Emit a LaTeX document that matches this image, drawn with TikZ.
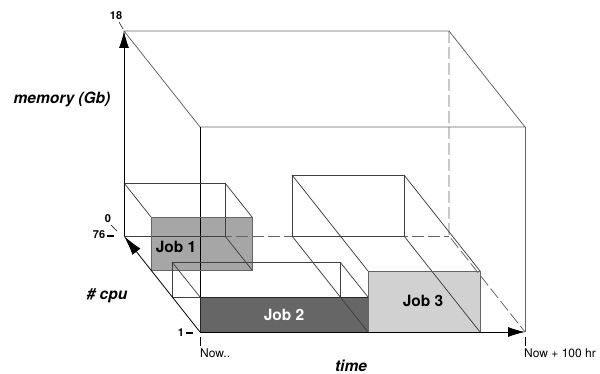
\documentclass[tikz,border=0pt]{standalone}
\usepackage{fontspec}
\setmainfont{TeX Gyre Heros}
\usepackage{tikz}
\usetikzlibrary{arrows.meta}

\tikzset{
  frame/.style={draw=black!60, line width=0.8pt},
  hidden/.style={frame, dash pattern=on 12pt off 4pt},
  axis/.style={draw=black, line width=0.8pt, -{Latex[length=17pt,width=10pt]}},
  jobline/.style={draw=black!75, line width=0.75pt},
  jobface/.style={draw=black!60, line width=0.9pt},
  lab/.style={inner sep=0pt, font=\fontsize{15.5}{18}\selectfont\bfseries\itshape},
  num/.style={inner sep=0pt, font=\fontsize{11}{13}\selectfont\bfseries},
  joblab/.style={font=\fontsize{15.5}{18}\selectfont\bfseries},
}

\begin{document}
\begin{tikzpicture}[x=1pt, y=-1pt]
    \useasboundingbox (0,0) rectangle (600,374);

    % Front faces of the jobs
    \fill[black!35] (151,217) rectangle (252,270);
    \fill[black!60] (200,297) rectangle (368,332);
    \fill[black!18] (368,271) rectangle (480,332);

    % Outer box
    \draw[frame] (124,31) -- (449,31) -- (525,127) -- (200,127) -- cycle;
    \draw[frame] (525,127) -- (525,332);
    \draw[black, line width=0.8pt] (200,127) -- (200,332);
    \draw[hidden] (449,31) -- (449,236) -- (525,332);
    \draw[hidden] (124,236) -- (449,236);

    % Job 1
    \draw[jobline] (124,183) rectangle (225,236);
    \foreach \x/\y in {124/183, 225/183, 225/236}
        \draw[jobline] (\x,\y) -- ++(27,34);
    \draw[jobface] (151,217) rectangle (252,270);

    % Job 2
    \draw[jobline] (172,297) -- (172,262) -- (340,262) -- (340,297);
    \draw[jobline] (172,297) -- (200,297);
    \foreach \x/\y in {172/262, 340/262}
        \draw[jobline] (\x,\y) -- ++(28,35);
    \draw[jobface, draw=black!85] (200,297) rectangle (368,332);

    % Job 3
    \draw[jobline] (292,175) rectangle (404,236);
    \foreach \x/\y in {292/175, 404/175, 404/236, 292/236}
        \draw[jobline] (\x,\y) -- ++(76,96);
    \draw[jobface] (368,271) rectangle (480,332);

    % Axes
    \draw[axis] (124,236) -- (124,31);
    \draw[axis, -{Latex[length=20pt,width=10pt]}] (200,332) -- (124,236);
    \draw[axis] (200,332) -- (525,332);

    % Ticks
    \draw[black, line width=0.5pt] (119,22) -- (123,29);
    \draw[black, line width=0.5pt] (111,225) -- (117,231);
    \draw[black, line width=1.2pt] (107,236) -- (114,236);
    \draw[black, line width=1.2pt] (186,333) -- (193,333);
    \draw[black, line width=0.6pt] (200,337) -- (200,346);
    \draw[black, line width=0.6pt] (525,337) -- (525,346);

    % Labels
    \node[num] (m18) at (116,16) {18};
    \node[num] (m0) at (108,219) {0};
    \node[num] (c76) at (99,235) {76};
    \node[num] (c1) at (181,333) {1};
    \node[lab] (mem) at (62,99) {memory (Gb)};
    \node[lab] (cpu) at (107,296) {\# cpu};
    \node[lab] (tm) at (351,366) {time};
    \node[anchor=west, inner sep=0pt, font=\fontsize{12}{14}\selectfont] (now) at (200,353) {Now..};
    \node[anchor=west, inner sep=0pt, font=\fontsize{12}{14}\selectfont] (end) at (524,353) {Now + 100 hr};

    % Job names
    \node[joblab] (j1) at (176,247) {Job 1};
    \node[joblab, white] (j2) at (284,315) {Job 2};
    \node[joblab] (j3) at (423,301) {Job 3};
\end{tikzpicture}
\end{document}
